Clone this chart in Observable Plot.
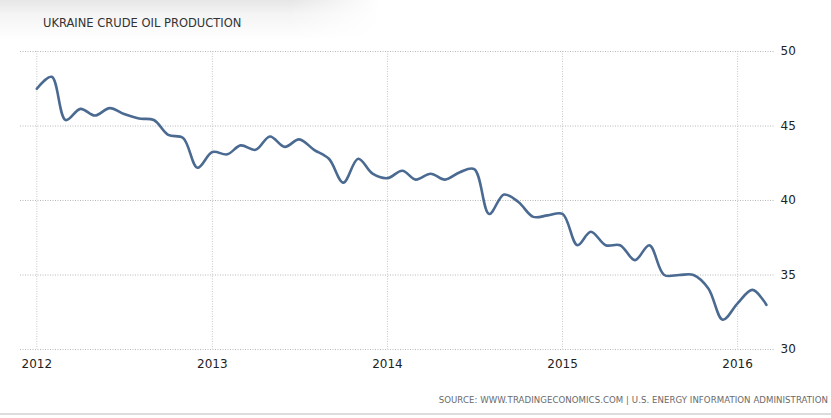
<!DOCTYPE html>
<html>
<head>
<meta charset="utf-8">
<script src="https://cdn.jsdelivr.net/npm/d3@7"></script>
<script src="https://cdn.jsdelivr.net/npm/@observablehq/plot@0.6"></script>
<style>
  html, body { margin: 0; padding: 0; background: #fff; }
  #wrap { position: relative; width: 831px; height: 418px; overflow: hidden; background: #fff; }
  #titlebg {
    position: absolute; left: 0; top: 0; width: 400px; height: 44px;
    background: linear-gradient(to bottom, #e6e6e6 0px, #f4f4f4 14px, #ffffff 40px);
    -webkit-mask-image: linear-gradient(to right, #000 0px, #000 290px, transparent 380px);
    mask-image: linear-gradient(to right, #000 0px, #000 290px, transparent 380px);
  }
  #title {
    position: relative; height: 40px; box-sizing: border-box; padding: 16px 0 0 43px;
    font-family: "DejaVu Sans", sans-serif; font-size: 11.5px; color: #333;
  }
  #chart svg { display: block; }
  #source {
    position: absolute; right: 3px; top: 395px;
    font-family: "DejaVu Sans", sans-serif; font-size: 8.6px; color: #6a6a6a;
    letter-spacing: 0.05px;
  }
  #rule { position: absolute; left: 0; top: 413px; width: 831px; height: 2px; background: #ddd; }
</style>
</head>
<body>
<div id="wrap">
  <div id="titlebg"></div>
  <div id="title">UKRAINE CRUDE OIL PRODUCTION</div>
  <div id="chart"></div>
  <div id="source">SOURCE: WWW.TRADINGECONOMICS.COM | U.S. ENERGY INFORMATION ADMINISTRATION</div>
  <div id="rule"></div>
</div>
<script>
const months = [
  "2012-01","2012-02","2012-03","2012-04","2012-05","2012-06","2012-07","2012-08","2012-09","2012-10","2012-11","2012-12",
  "2013-01","2013-02","2013-03","2013-04","2013-05","2013-06","2013-07","2013-08","2013-09","2013-10","2013-11","2013-12",
  "2014-01","2014-02","2014-03","2014-04","2014-05","2014-06","2014-07","2014-08","2014-09","2014-10","2014-11","2014-12",
  "2015-01","2015-02","2015-03","2015-04","2015-05","2015-06","2015-07","2015-08","2015-09","2015-10","2015-11","2015-12",
  "2016-01","2016-02","2016-03"
];
const production = [
  47.5, 48.3, 45.4, 46.15, 45.7, 46.2, 45.8, 45.5, 45.4, 44.4, 44.2, 42.2,
  43.25, 43.1, 43.7, 43.4, 44.3, 43.6, 44.1, 43.4, 42.8, 41.2, 42.8, 41.8,
  41.5, 42.0, 41.4, 41.8, 41.4, 41.9, 42.1, 39.1, 40.4, 39.9, 38.9, 39.0,
  39.1, 37.0, 37.9, 37.0, 37.0, 36.0, 37.0, 35.0, 35.0, 35.0, 34.1, 32.0,
  33.1, 34.0, 33.0
];
const yearTicks = ["2012-01-01","2013-01-01","2014-01-01","2015-01-01","2016-01-01"];
const yTicks = [30, 35, 40, 45, 50];
const xDomain = ["2011-11-28", "2016-03-20"];

const data = months.map((m, i) => ({date: new Date(m + "-01T00:00:00Z"), value: production[i]}));
const xt = yearTicks.map(s => new Date(s + "T00:00:00Z"));

const chart = Plot.plot({
  width: 831,
  height: 340,
  marginTop: 11,
  marginBottom: 31,
  marginLeft: 20,
  marginRight: 56,
  style: {fontFamily: "DejaVu Sans, sans-serif", fontSize: "12px", color: "#333", background: "transparent"},
  x: {type: "utc", domain: xDomain.map(s => new Date(s + "T00:00:00Z"))},
  y: {domain: [30, 50]},
  marks: [
    Plot.gridY(yTicks, {stroke: "#b8b8b8", strokeOpacity: 1, strokeDasharray: "1,1.5"}),
    Plot.gridX(xt, {stroke: "#c8c8c8", strokeOpacity: 1, strokeDasharray: "1,1.5"}),
    Plot.axisX(xt, {tickSize: 0, tickPadding: 10, tickFormat: d3.utcFormat("%Y"), fill: "#222", label: null}),
    Plot.axisY(yTicks, {anchor: "right", tickSize: 0, tickPadding: 5, fill: "#222", label: null}),
    Plot.line(data, {x: "date", y: "value", curve: "catmull-rom", stroke: "#4b6a91", strokeWidth: 2.6})
  ]
});
document.getElementById("chart").appendChild(chart);
</script>
</body>
</html>
